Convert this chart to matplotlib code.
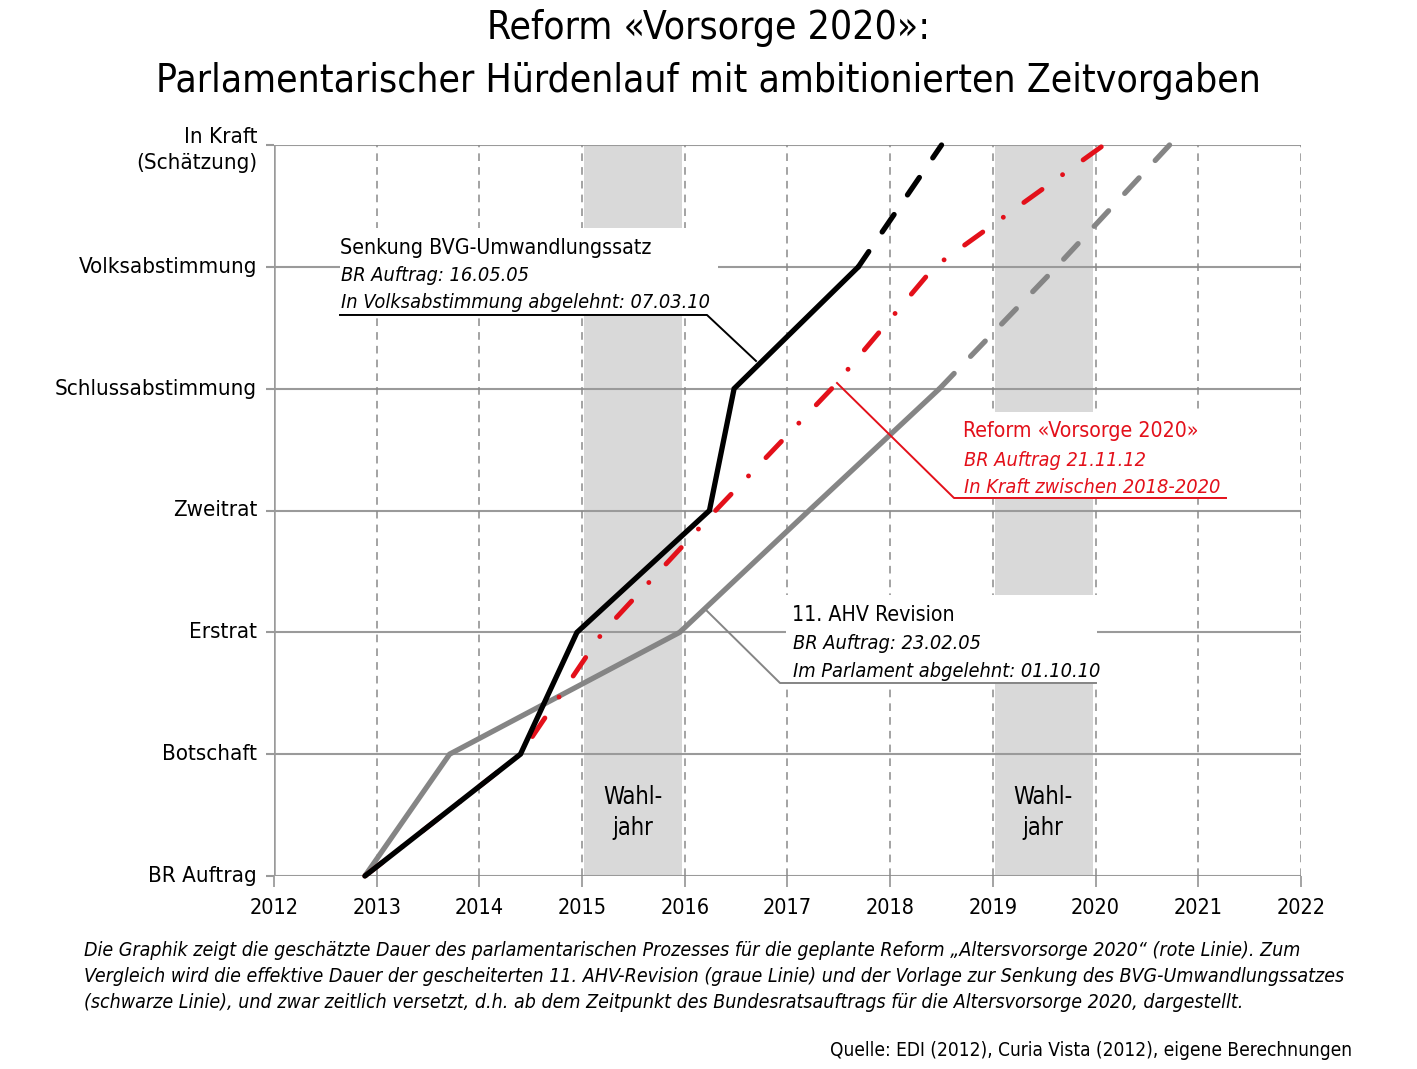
import numpy as np
import matplotlib
matplotlib.use("Agg")
import matplotlib.pyplot as plt
from matplotlib.patches import Rectangle

plt.rcParams['font.family'] = ['DejaVu Sans']
plt.rcParams['font.stretch'] = 'condensed'

# Stufen des parlamentarischen Prozesses
stages = ["BR Auftrag", "Botschaft", "Erstrat", "Zweitrat",
          "Schlussabstimmung", "Volksabstimmung", "In Kraft\n(Schätzung)"]
years = list(range(2012, 2023))

# Zeitpunkte (Jahr, versetzt) je Stufe
bvg_x = [2012.885, 2014.40, 2014.95, 2016.24, 2016.48, 2017.69, 2018.50]
ahv_x = [2012.885, 2013.71, 2015.95, 2017.21, 2018.48, 2019.62, 2020.72]
ref_x = [2012.885, 2014.40, 2015.20, 2016.30, 2017.43, 2018.43, 2020.08]
# letzte Stufen geschaetzt (gestrichelt)
bvg_solid = 6   # Punkte 0..5 durchgezogen
ahv_solid = 5   # Punkte 0..4 durchgezogen

wahljahre = [2015, 2019]

RED = "#e3101a"
GRAY = "#858585"
GRID = "#9a9a9a"

fig = plt.figure(figsize=(14.17, 10.69), dpi=100)
ax = fig.add_axes([274/1417, 1 - 876/1069, (1301-274)/1417, (876-145)/1069])
ax.set_xlim(2012, 2022)
ax.set_ylim(0, 6)
for s in ax.spines.values():
    s.set_visible(False)

yv = np.arange(len(stages))

# Wahljahre
for w in wahljahre:
    ax.axvspan(w + 0.02, w + 0.97, color="#d9d9d9", zorder=0.5, lw=0)
    ax.text(w + 0.49, 0.52, "Wahl-\njahr", ha="center", va="center",
            fontsize=17, linespacing=1.4, zorder=6)

# Gitter
for y in yv:
    ax.axhline(y, color=GRID, lw=1.5, zorder=1)
for yr in years[1:]:
    ax.axvline(yr, color="#8a8a8a", lw=1.1, ls=(0, (5, 4)), zorder=1)
ax.axvline(2012, color=GRID, lw=1.8, zorder=1)

# weisse Flaechen hinter den Beschriftungen
def px2x(p):
    return 2012 + (p - 274) / 102.7
def px2y(p):
    return (876 - p) / 121.83

for (x0, x1, y0, y1) in [(340, 718, 315, 228), (956, 1228, 499, 412), (786, 1097, 684, 595)]:
    ax.add_patch(Rectangle((px2x(x0), px2y(y0)), px2x(x1) - px2x(x0), px2y(y1) - px2y(y0),
                           facecolor="white", edgecolor="none", zorder=2))

# Linien
ax.plot(ahv_x[:ahv_solid], yv[:ahv_solid], color=GRAY, lw=3.8, zorder=3,
        solid_joinstyle="miter", solid_capstyle="butt", clip_on=False)
ax.plot(ahv_x[ahv_solid-1:], yv[ahv_solid-1:], color=GRAY, lw=3.8, zorder=3,
        ls=(0, (4, 4.5)), dash_capstyle="round", clip_on=False)

ax.plot(ref_x, yv, color=RED, lw=3.5, zorder=4,
        ls=(0, (4.6, 5.2, 0.01, 5.2)), dash_capstyle="round", clip_on=False)

ax.plot(bvg_x[:bvg_solid], yv[:bvg_solid], color="black", lw=3.8, zorder=5,
        solid_joinstyle="miter", solid_capstyle="round", clip_on=False)
ax.plot(bvg_x[bvg_solid-1:], yv[bvg_solid-1:], color="black", lw=3.8, zorder=5,
        ls=(0.5, (4, 4.5)), dash_capstyle="round", clip_on=False)

# Annotationen
fs = 15.3
fi = 14.3
ax.plot([px2x(340), px2x(707), px2x(756)], [px2y(315), px2y(315), px2y(361)],
        color="black", lw=1.4, zorder=3)
ax.text(px2x(340), px2y(254), "Senkung BVG-Umwandlungssatz", fontsize=fs, zorder=6)
ax.text(px2x(341), px2y(281), "BR Auftrag: 16.05.05", fontsize=fi, style="italic", zorder=6)
ax.text(px2x(341), px2y(308), "In Volksabstimmung abgelehnt: 07.03.10", fontsize=fi,
        style="italic", zorder=6)

ax.plot([px2x(837), px2x(954), px2x(1226)], [px2y(383), px2y(498), px2y(498)],
        color=RED, lw=1.4, zorder=3)
ax.text(px2x(963), px2y(437), "Reform «Vorsorge 2020»", fontsize=fs, color=RED, zorder=6)
ax.text(px2x(964), px2y(466), "BR Auftrag 21.11.12", fontsize=fi, color=RED,
        style="italic", zorder=6)
ax.text(px2x(964), px2y(493), "In Kraft zwischen 2018-2020", fontsize=fi, color=RED,
        style="italic", zorder=6)

ax.plot([px2x(706), px2x(780), px2x(1096)], [px2y(610), px2y(683), px2y(683)],
        color=GRAY, lw=1.4, zorder=3)
ax.text(px2x(792), px2y(621), "11. AHV Revision", fontsize=fs, zorder=6)
ax.text(px2x(793), px2y(649), "BR Auftrag: 23.02.05", fontsize=fi, style="italic", zorder=6)
ax.text(px2x(793), px2y(677), "Im Parlament abgelehnt: 01.10.10", fontsize=fi,
        style="italic", zorder=6)

# Achsen
ax.set_xticks(years)
ax.set_xticklabels([str(y) for y in years], fontsize=15.5)
ax.set_yticks(yv)
ax.set_yticklabels([])
ax.tick_params(axis="y", length=6, color=GRID, width=1.5)
ax.tick_params(axis="x", length=8, color="#8a8a8a", width=1.1, pad=8)
ylab_tr = ax.get_yaxis_transform()
for y, name in zip(yv[:-1], stages[:-1]):
    ax.text(-17/1027, y, name, transform=ylab_tr, ha="right", va="center", fontsize=16)
ax.text(-17/1027, px2y(127), stages[-1], transform=ylab_tr, ha="right", va="top",
        fontsize=16, linespacing=1.35)

# Titel
fig.text(0.5, 1 - 28/1069, "Reform «Vorsorge 2020»:", ha="center", va="center", fontsize=28)
fig.text(0.5, 1 - 81/1069, "Parlamentarischer Hürdenlauf mit ambitionierten Zeitvorgaben",
         ha="center", va="center", fontsize=28)

caption = ["Die Graphik zeigt die geschätzte Dauer des parlamentarischen Prozesses für die geplante Reform „Altersvorsorge 2020“ (rote Linie). Zum",
           "Vergleich wird die effektive Dauer der gescheiterten 11. AHV-Revision (graue Linie) und der Vorlage zur Senkung des BVG-Umwandlungssatzes",
           "(schwarze Linie), und zwar zeitlich versetzt, d.h. ab dem Zeitpunkt des Bundesratsauftrags für die Altersvorsorge 2020, dargestellt."]
for i, line in enumerate(caption):
    fig.text(84/1417, 1 - (950 + 26*i)/1069, line, ha="left", va="center",
             fontsize=14, style="italic")
fig.text(1352/1417, 1 - 1051/1069, "Quelle: EDI (2012), Curia Vista (2012), eigene Berechnungen",
         ha="right", va="center", fontsize=13.7)

fig.savefig("out.png", dpi=100)
